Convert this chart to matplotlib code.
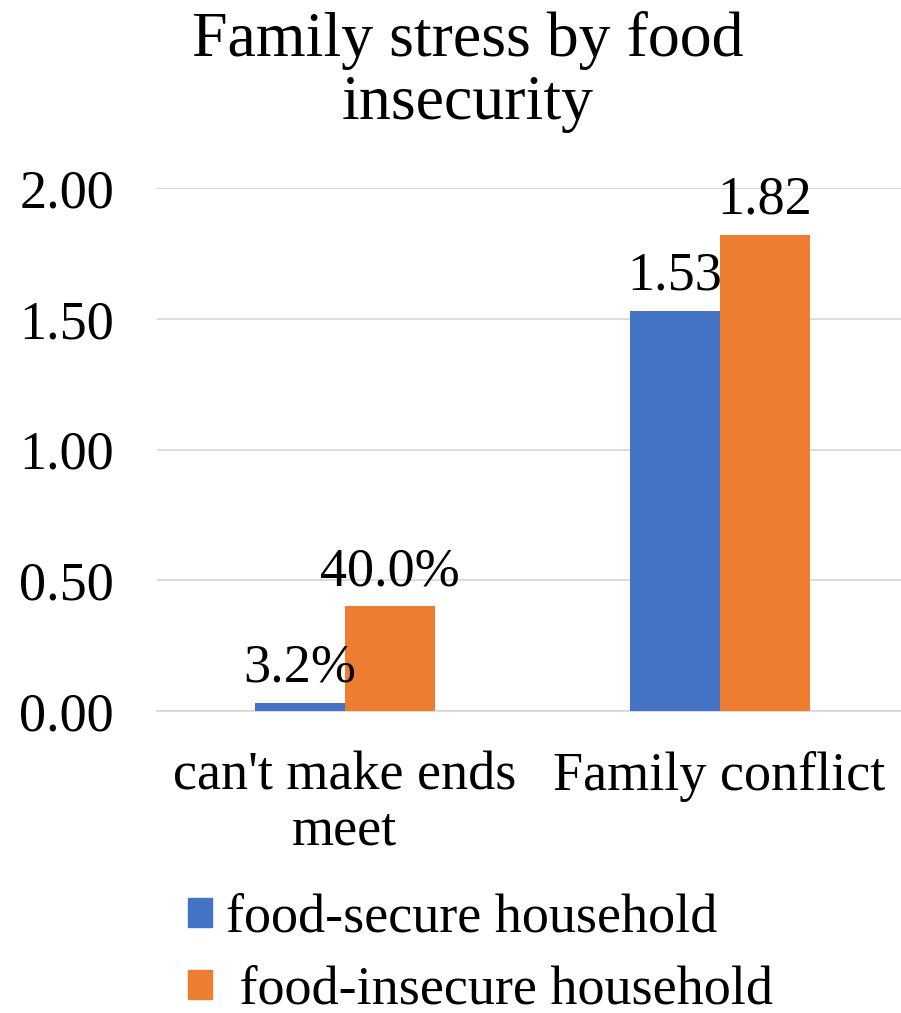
import matplotlib.pyplot as plt
from matplotlib.patches import Patch

categories = ["can't make ends\nmeet", "Family conflict"]
secure = [0.032, 1.53]
insecure = [0.40, 1.82]
secure_labels = ["3.2%", "1.53"]
insecure_labels = ["40.0%", "1.82"]
yticks = [0.0, 0.5, 1.0, 1.5, 2.0]

blue = '#4472C4'
orange = '#ED7D31'
fs = 39

plt.rcParams['font.family'] = ['Liberation Serif', 'DejaVu Serif']
fig = plt.figure(figsize=(9.01, 10.13), dpi=100)
ax = fig.add_axes([157/901, 1 - 711/1013, 750/901, (711-188)/1013])

w = 0.24
x = [0, 1]
ax.bar([i - w/2 for i in x], secure, width=w, color=blue, zorder=3)
ax.bar([i + w/2 for i in x], insecure, width=w, color=orange, zorder=3)
for i in x:
    ax.text(i - w/2, secure[i] + 0.035, secure_labels[i], ha='center', va='bottom', fontsize=fs, zorder=4)
    ax.text(i + w/2, insecure[i] + 0.035, insecure_labels[i], ha='center', va='bottom', fontsize=fs, zorder=4)

ax.set_xlim(-0.5, 1.5)
ax.set_ylim(0, 2.0)
ax.set_yticks(yticks)
ax.set_yticklabels(['%.2f' % v for v in yticks], fontsize=fs)
ax.set_xticks(x)
ax.set_xticklabels(categories, fontsize=fs, linespacing=1.1)
ax.tick_params(length=0)
ax.tick_params(axis='y', pad=31)
ax.tick_params(axis='x', pad=29)
ax.grid(axis='y', color='#D9D9D9', linewidth=1.3, zorder=0)
for s in ['top', 'right', 'left']:
    ax.spines[s].set_visible(False)
ax.spines['bottom'].set_color('#D9D9D9')
ax.spines['bottom'].set_linewidth(1.3)

fig.text(468/901, 1 - 72/1013, "Family stress by food\ninsecurity", ha='center', va='center',
         fontsize=46, linespacing=1.12)

handles = [Patch(color=blue), Patch(color=orange)]
fig.legend(handles, ["food-secure household", " food-insecure household"], loc='upper left',
           bbox_to_anchor=(188/901, 1 - 893/1013), frameon=False, fontsize=fs,
           handlelength=0.45, handleheight=0.45, handletextpad=0.25, labelspacing=0.4,
           borderpad=0, borderaxespad=0)

fig.savefig('out.png', dpi=100)
